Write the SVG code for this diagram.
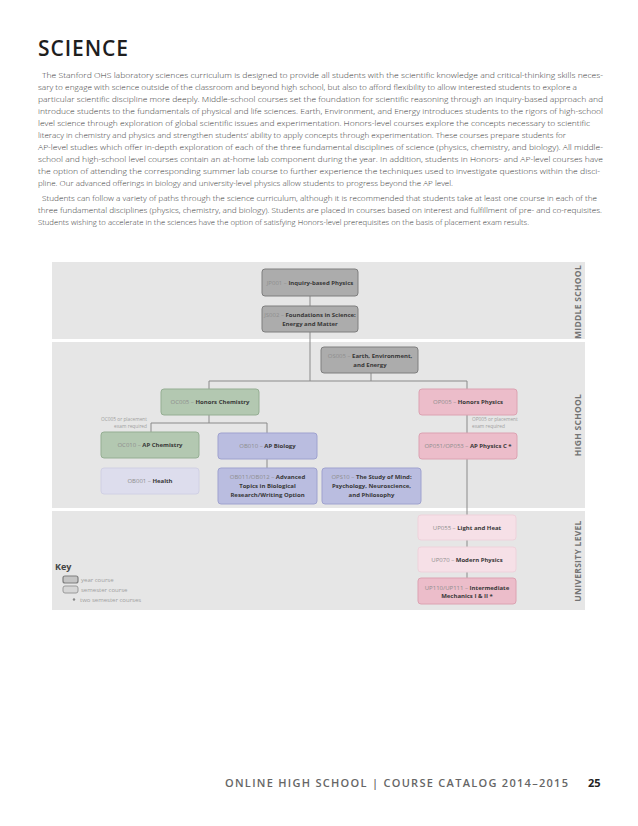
<svg xmlns="http://www.w3.org/2000/svg" width="638" height="826" viewBox="0 0 638 826">
<style>
.p{font-family:"Open Sans","Noto Sans",sans-serif;font-size:7.6px;font-weight:300;fill:#3c3c3c}
.band{fill:#e6e6e6}
.bl{font-family:"Open Sans","Noto Sans",sans-serif;font-size:8.5px;font-weight:700;fill:#747474;text-anchor:middle;letter-spacing:0.3px}
.bx text{font-family:"Open Sans","Noto Sans",sans-serif;font-size:6px;text-anchor:middle}
.c{fill:#8e8e8e}
.t{font-weight:700;fill:#383838}
.gray rect{fill:#acacac;stroke:#7e7e7e;stroke-width:1}
.green rect{fill:#b3c8b1;stroke:#95ae93;stroke-width:1}
.purple rect{fill:#babde0;stroke:#9fa2cf;stroke-width:1}
.lav rect{fill:#dddded;stroke:#d0d0e4;stroke-width:1}
.pink rect{fill:#ecbdca;stroke:#dca2b2;stroke-width:1}
.lpink rect{fill:#f6e0e7;stroke:#eed2db;stroke-width:1}
.note{font-family:"Open Sans","Noto Sans",sans-serif;font-size:4.8px;fill:#a0a0a0}
.key{font-family:"Open Sans","Noto Sans",sans-serif;font-size:6px;fill:#a0a0a0}
#connectors path{fill:none;stroke:#8a8a8a;stroke-width:1}
</style>
<rect width="638" height="826" fill="#ffffff"/>
<text x="38" y="56" font-family="'Open Sans','Noto Sans',sans-serif" font-size="21" font-weight="600" fill="#1e1e1e" textLength="90" lengthAdjust="spacing">SCIENCE</text>
<g class="p">
<text x="42" y="78" textLength="561" lengthAdjust="spacingAndGlyphs">The Stanford OHS laboratory sciences curriculum is designed to provide all students with the scientific knowledge and critical-thinking skills neces-</text>
<text x="38" y="90" textLength="539" lengthAdjust="spacingAndGlyphs">sary to engage with science outside of the classroom and beyond high school, but also to afford flexibility to allow interested students to explore a</text>
<text x="38" y="102" textLength="565" lengthAdjust="spacingAndGlyphs">particular scientific discipline more deeply. Middle-school courses set the foundation for scientific reasoning through an inquiry-based approach and</text>
<text x="38" y="114" textLength="565" lengthAdjust="spacingAndGlyphs">introduce students to the fundamentals of physical and life sciences. Earth, Environment, and Energy introduces students to the rigors of high-school</text>
<text x="38" y="126" textLength="552" lengthAdjust="spacingAndGlyphs">level science through exploration of global scientific issues and experimentation.  Honors-level courses explore the concepts necessary to scientific</text>
<text x="38" y="138" textLength="528" lengthAdjust="spacingAndGlyphs">literacy in chemistry and physics and strengthen students’ ability to apply concepts through experimentation. These courses prepare students for</text>
<text x="38" y="150" textLength="565" lengthAdjust="spacingAndGlyphs">AP-level studies which offer in-depth exploration of each of the three fundamental disciplines of science (physics, chemistry, and biology). All middle-</text>
<text x="38" y="162" textLength="565" lengthAdjust="spacingAndGlyphs">school and high-school level courses contain an at-home lab component during the year. In addition, students in Honors- and AP-level courses have</text>
<text x="38" y="174" textLength="562" lengthAdjust="spacingAndGlyphs">the option of attending the corresponding summer lab course to further experience the techniques used to investigate questions within the disci-</text>
<text x="38" y="186" textLength="415" lengthAdjust="spacingAndGlyphs">pline. Our advanced offerings in biology and university-level physics allow students to progress beyond the AP level.</text>
<text x="42" y="201" textLength="555" lengthAdjust="spacingAndGlyphs">Students can follow a variety of paths through the science curriculum, although it is recommended that students take at least one course in each of the</text>
<text x="38" y="213" textLength="564" lengthAdjust="spacingAndGlyphs">three fundamental disciplines (physics, chemistry, and biology). Students are placed in courses based on interest and fulfillment of pre- and co-requisites.</text>
<text x="38" y="225" textLength="491" lengthAdjust="spacingAndGlyphs">Students wishing to accelerate in the sciences have the option of satisfying Honors-level prerequisites on the basis of placement exam results.</text>
</g>
<g id="bands">
<rect class="band" x="52" y="262" width="533" height="77"/>
<rect class="band" x="52" y="342" width="533" height="166"/>
<rect class="band" x="52" y="511" width="533" height="99"/>
<text class="bl" transform="translate(581,302) rotate(-90)">MIDDLE SCHOOL</text>
<text class="bl" transform="translate(581,425) rotate(-90)">HIGH SCHOOL</text>
<text class="bl" transform="translate(581,561) rotate(-90)">UNIVERSITY LEVEL</text>
</g>
<g id="connectors">
<path d="M310 296V306M310 332V381M371 373V381M209 381H467M209 381V389M467 381V389M209 415V423M151 423H267M151 423V432M267 423V433M267 459V468M467 415V433M467 459V515M467 540V547M467 572V578"/>
</g>
<g id="jp001" class="bx gray"><rect x="262" y="269" width="96" height="27" rx="3"/><text x="310" y="284.5"><tspan class="c">JP001 – </tspan><tspan class="t">Inquiry-based Physics</tspan></text></g>
<g id="js002" class="bx gray"><rect x="262" y="306" width="96" height="26" rx="3"/><text x="310" y="317"><tspan class="c">JS002 – </tspan><tspan class="t">Foundations in Science:</tspan></text><text x="310" y="326" class="t">Energy and Matter</text></g>
<g id="os005" class="bx gray"><rect x="321" y="347" width="97" height="26" rx="3"/><text x="370" y="358"><tspan class="c">OS005 – </tspan><tspan class="t">Earth, Environment,</tspan></text><text x="370" y="367" class="t">and Energy</text></g>
<g id="oc005" class="bx green"><rect x="161" y="389" width="98" height="26" rx="3"/><text x="210" y="404"><tspan class="c">OC005 – </tspan><tspan class="t">Honors Chemistry</tspan></text></g>
<g id="op005" class="bx pink"><rect x="419" y="389" width="98" height="26" rx="3"/><text x="468" y="404"><tspan class="c">OP005 – </tspan><tspan class="t">Honors Physics</tspan></text></g>
<text class="note" x="147" y="421" text-anchor="end">OC005 or placement</text>
<text class="note" x="147" y="428" text-anchor="end">exam required</text>
<text class="note" x="472" y="421">OP005 or placement</text>
<text class="note" x="472" y="428">exam required</text>
<g id="oc010" class="bx green"><rect x="101" y="432" width="98" height="26" rx="3"/><text x="150" y="447"><tspan class="c">OC010 – </tspan><tspan class="t">AP Chemistry</tspan></text></g>
<g id="ob010" class="bx purple"><rect x="218" y="433" width="99" height="26" rx="3"/><text x="267.5" y="448"><tspan class="c">OB010 – </tspan><tspan class="t">AP Biology</tspan></text></g>
<g id="op051" class="bx pink"><rect x="419" y="433" width="98" height="26" rx="3"/><text x="468" y="448"><tspan class="c">OP051/OP053 – </tspan><tspan class="t">AP Physics C *</tspan></text></g>
<g id="ob001" class="bx lav"><rect x="101" y="468" width="98" height="26" rx="3"/><text x="150" y="483"><tspan class="c">OB001 – </tspan><tspan class="t">Health</tspan></text></g>
<g id="ob011" class="bx purple"><rect x="218" y="468" width="99" height="36" rx="3"/><text x="267.5" y="479"><tspan class="c">OB011/OB012 – </tspan><tspan class="t">Advanced</tspan></text><text x="267.5" y="488" class="t">Topics in Biological</text><text x="267.5" y="497" class="t">Research/Writing Option</text></g>
<g id="ops10" class="bx purple"><rect x="322" y="468" width="99" height="36" rx="3"/><text x="371.5" y="479"><tspan class="c">OPS10 – </tspan><tspan class="t">The Study of Mind:</tspan></text><text x="371.5" y="488" class="t">Psychology, Neuroscience,</text><text x="371.5" y="497" class="t">and Philosophy</text></g>
<g id="up055" class="bx lpink"><rect x="418" y="515" width="98" height="25" rx="3"/><text x="467" y="529.5"><tspan class="c">UP055 – </tspan><tspan class="t">Light and Heat</tspan></text></g>
<g id="up070" class="bx lpink"><rect x="418" y="547" width="98" height="25" rx="3"/><text x="467" y="561.5"><tspan class="c">UP070 – </tspan><tspan class="t">Modern Physics</tspan></text></g>
<g id="up110" class="bx pink"><rect x="418" y="578" width="98" height="26" rx="3"/><text x="467" y="590"><tspan class="c">UP110/UP111 – </tspan><tspan class="t">Intermediate</tspan></text><text x="467" y="598" class="t">Mechanics I &amp; II *</text></g>
<g id="key">
<text x="55" y="570" font-family="'Open Sans','Noto Sans',sans-serif" font-size="9" font-weight="700" fill="#444">Key</text>
<rect x="63" y="576" width="15" height="7" rx="2" fill="#c4c4c4" stroke="#7e7e7e" stroke-width="1.2"/>
<rect x="63" y="586" width="15" height="7" rx="2" fill="#d6d6d6" stroke="#9a9a9a" stroke-width="1"/>
<circle cx="74" cy="599.5" r="1.2" fill="#888"/>
<text class="key" x="81" y="582">year course</text>
<text class="key" x="81" y="592">semester course</text>
<text class="key" x="80" y="602">two semester courses</text>
</g>
<g id="footer">
<text x="225" y="787" font-family="'Open Sans','Noto Sans',sans-serif" font-size="11" font-weight="600" fill="#666" textLength="343" lengthAdjust="spacing">ONLINE HIGH SCHOOL  |  COURSE CATALOG 2014–2015</text>
<text x="588" y="787" font-family="'Open Sans','Noto Sans',sans-serif" font-size="11" font-weight="700" fill="#222">25</text>
</g>
</svg>
